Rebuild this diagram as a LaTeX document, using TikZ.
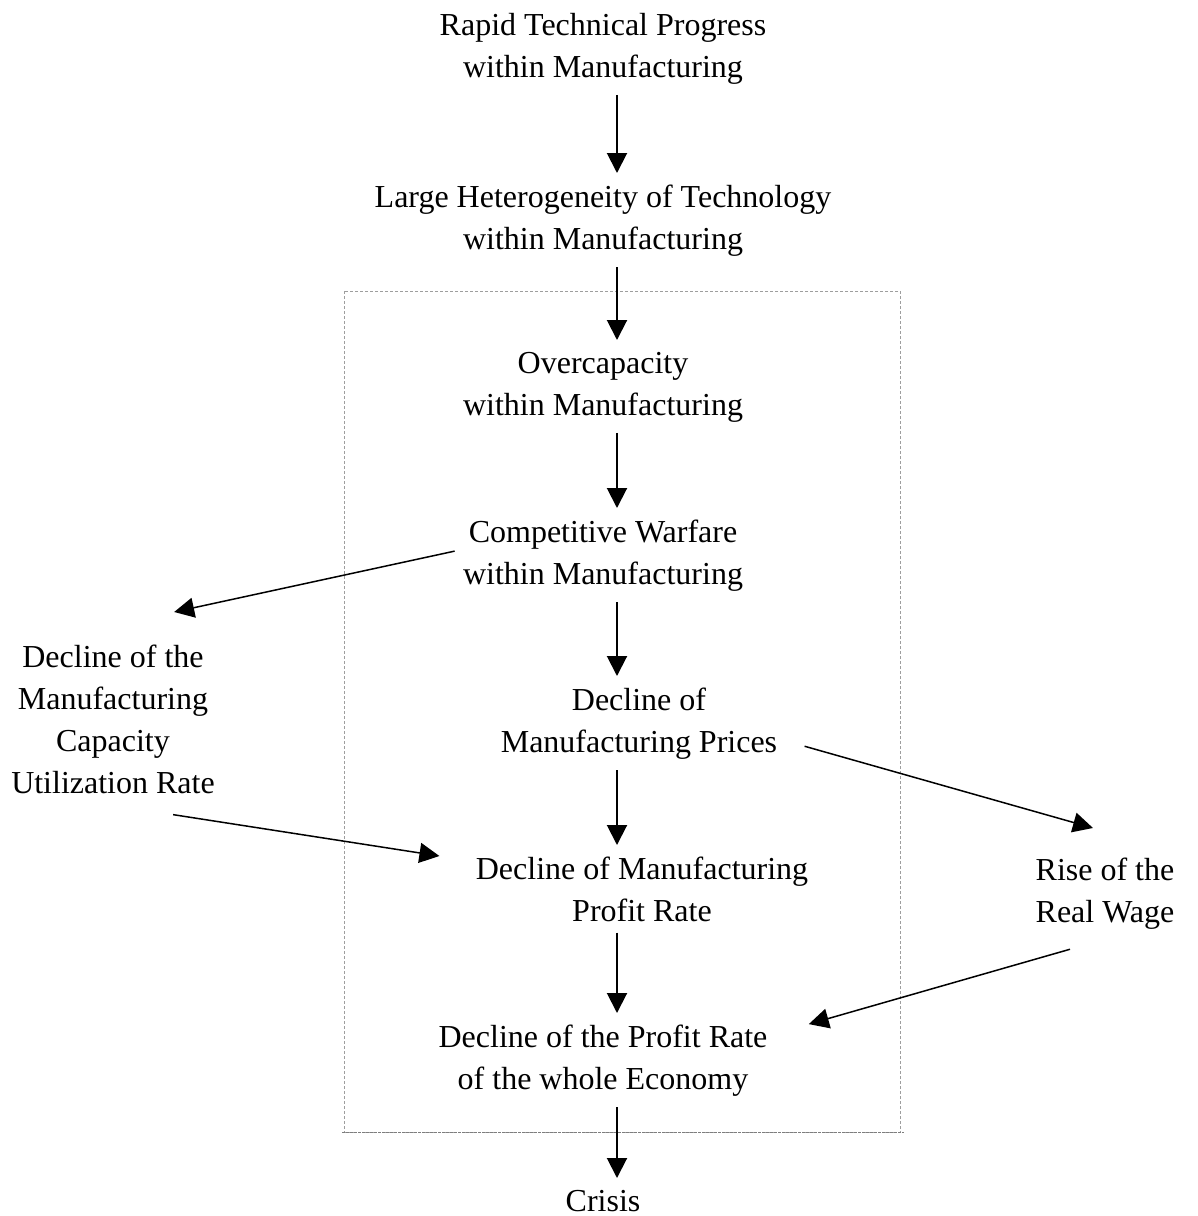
\documentclass[tikz,border=0pt]{standalone}
\usepackage{fontspec}
\setmainfont{Liberation Serif}
\usetikzlibrary{arrows.meta,calc}
\begin{document}
\begin{tikzpicture}[x=0.5pt,y=-0.5pt]
    \definecolor{framegray}{rgb}{0.62, 0.62, 0.62};
\useasboundingbox (0,0) rectangle (1198,1216);
% dashed frame round the manufacturing part
\draw [framegray,line width=0.5pt,dash pattern=on 1.5pt off 1pt] (344,291) rectangle (900,1132);
\draw [framegray!80!black,line width=0.5pt,dash pattern=on 1.5pt off 0.5pt] (342,1132)--(904,1132);
\coordinate (spine) at (617,0);
 \tikzstyle{every node}=[align=center,inner sep=0pt,anchor=north,font=\fontsize{16pt}{21pt}\selectfont];
\node (rapid)    at (603,13)   {Rapid Technical Progress\\within Manufacturing};
\node (hetero)   at (603,185)  {Large Heterogeneity of Technology\\within Manufacturing};
\node (overcap)  at (603,352)  {Overcapacity\\within Manufacturing};
\node (warfare)  at (603,520)  {Competitive Warfare\\within Manufacturing};
\node (prices)   at (639,688)  {Decline of\\Manufacturing Prices};
\node (mprofit)  at (642,857)  {Decline of Manufacturing\\Profit Rate};
\node (eprofit)  at (603,1025) {Decline of the Profit Rate\\of the whole Economy};
\node (crisis)   at (603,1190) {Crisis};
\node (capacity) at (113,645)  {Decline of the\\Manufacturing\\Capacity\\Utilization Rate};
\node (wage)     at (1105,858) {Rise of the\\Real Wage};
 \tikzstyle{down}=[-{Triangle[length=10pt,width=10pt]},line width=1pt,shorten <=5pt,shorten >=6pt];
 \tikzstyle{side}=[-{Triangle[length=10pt,width=10pt]},line width=0.75pt];
\draw [down] (rapid.south -| spine)--(hetero.north -| spine);
\draw [down] (hetero.south -| spine)--(overcap.north -| spine);
\draw [down] (overcap.south -| spine)--(warfare.north -| spine);
\draw [down] (warfare.south -| spine)--(prices.north -| spine);
\draw [down] (prices.south -| spine)--(mprofit.north -| spine);
\draw [down] (mprofit.south -| spine)--(eprofit.north -| spine);
\draw [down] (eprofit.south -| spine)--(crisis.north -| spine);
\draw [side] ($(warfare.west)+(-8,-5)$)--($(capacity.north east)+(-41,-33)$);
\draw [side] ($(capacity.south east)+(-42,20)$)--($(mprofit.north west)+(-36,-1)$);
\draw [side] ($(prices.south east)+(27,-14)$)--($(wage.north)+(-12,-30)$);
\draw [side] ($(wage.south)+(-35,19)$)--($(eprofit.east)+(41,-37)$);
\end{tikzpicture}
\end{document}
